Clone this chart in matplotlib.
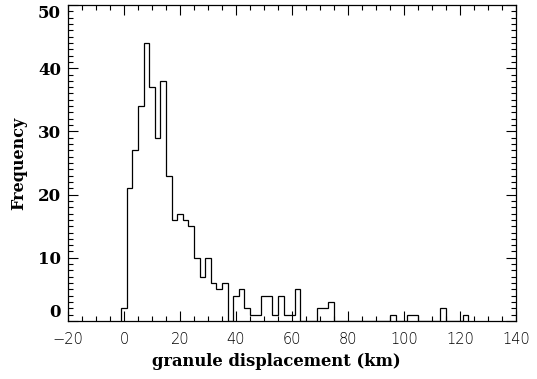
import numpy as np
import matplotlib
matplotlib.use("Agg")
import matplotlib.pyplot as plt
from matplotlib.ticker import MultipleLocator

# Histogram counts, bins of 2 km centred on 0, 2, 4, ..., 122 km
counts = [2, 21, 27, 34, 44, 37, 29, 38, 23, 16,
          17, 16, 15, 10, 7, 10, 6, 5, 6, 0,
          4, 5, 2, 1, 1, 4, 4, 1, 4, 1,
          1, 5, 0, 0, 0, 2, 2, 3, 0, 0,
          0, 0, 0, 0, 0, 0, 0, 0, 1, 0,
          0, 1, 1, 0, 0, 0, 0, 2, 0, 0,
          0, 1]
bin_width = 2
first_edge = -1
bin_edges = first_edge + bin_width * np.arange(len(counts) + 1)

x_ticks = [-20, 0, 20, 40, 60, 80, 100, 120, 140]
y_ticks = [0, 10, 20, 30, 40, 50]
x_label = "granule displacement (km)"
y_label = "Frequency"

fig = plt.figure(figsize=(5.37, 3.79), dpi=100)
ax = fig.add_axes([68/537, 1-321/379, (516-68)/537, (321-5)/379])

ax.stairs(counts, bin_edges, baseline=0, color="black", linewidth=0.9)

ax.set_xlim(-20, 140)
ax.set_ylim(0, 50)
ax.set_xticks(x_ticks)
ax.set_yticks(y_ticks)
ax.xaxis.set_minor_locator(MultipleLocator(5))
ax.yaxis.set_minor_locator(MultipleLocator(1))

ax.tick_params(which="both", direction="in", top=True, right=True, width=0.8, color="black")
ax.tick_params(which="major", length=7)
ax.tick_params(which="minor", length=3.5)
ax.tick_params(axis="x", which="major", pad=8)
ax.tick_params(axis="y", which="major", pad=5)

for lab in ax.get_xticklabels():
    lab.set_fontfamily("DejaVu Sans")
    lab.set_fontsize(10.5)
    lab.set_fontweight("light")
ylabs = ax.get_yticklabels()
for lab in ylabs:
    lab.set_fontfamily("DejaVu Serif")
    lab.set_fontweight("bold")
    lab.set_fontsize(12)
# IDL-style: keep the end labels inside the axis box
ylabs[0].set_va("bottom")
ylabs[-1].set_va("top")

for sp in ax.spines.values():
    sp.set_linewidth(0.9)

ax.set_xlabel(x_label, fontfamily="DejaVu Serif", fontweight="bold", fontsize=11.8)
ax.xaxis.set_label_coords((276-68)/448, -(362-321)/316, transform=ax.transAxes)
ax.xaxis.label.set_va("center")
ax.set_ylabel(y_label, fontfamily="DejaVu Serif", fontweight="bold", fontsize=11.5, labelpad=8)

fig.savefig("out.png", dpi=100)
